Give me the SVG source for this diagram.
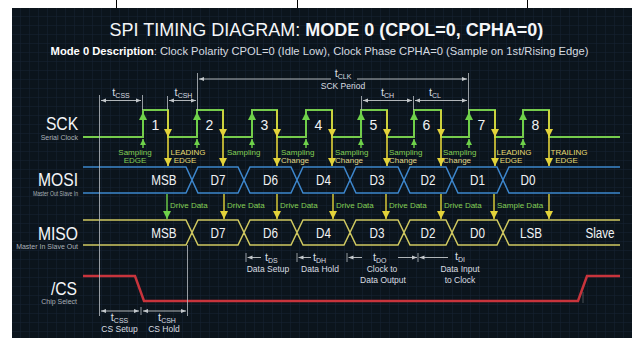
<svg xmlns="http://www.w3.org/2000/svg" width="632" height="338" viewBox="0 0 632 338">
<defs>
<style>
text{font-family:"Liberation Sans",Arial,sans-serif}
.title{font-size:18px;fill:#f4f6f8;text-anchor:middle}
.desc{font-size:11.2px;fill:#d6dbe0;text-anchor:middle}
.sig{font-size:18px;fill:#f4f6f8;text-anchor:end;transform-box:fill-box;transform-origin:right center;transform:scaleX(0.87)}
.sigsub{font-size:7px;fill:#aab1b8;text-anchor:end}
.bus{font-size:15px;fill:#f0f2f4;text-anchor:middle;transform-box:fill-box;transform-origin:center;transform:scaleX(0.78)}
.num{font-size:14px;fill:#f0f2f4;text-anchor:middle}
.sm{font-size:8px}
.grn{fill:#84cf55}
.yel{fill:#e6da72}
.chg{fill:#e2d98a}
.tl{font-size:11px;fill:#d9dde1}
.ts{font-size:7px}
.tx{font-size:8.5px;fill:#d9dde1;text-anchor:middle}
.mid{text-anchor:middle}
.st{text-anchor:start}
.sck{fill:none;stroke:#76cc4c;stroke-width:2}
.mosi{fill:none;stroke:#3d86cc;stroke-width:1.5}
.miso{fill:none;stroke:#cfc860;stroke-width:1.5}
.cs{fill:none;stroke:#c8343c;stroke-width:2.5}
.ya{fill:none;stroke:#e3d33a;stroke-width:1.6;marker-mid:url(#ay);marker-end:url(#ay)}
.ga{fill:none;stroke:#6fd24a;stroke-width:1.6;marker-end:url(#ag)}
.gs{fill:none;stroke:#6fd24a;stroke-width:1.4;marker-end:url(#ags)}
.dy{fill:none;stroke:#e3d33a;stroke-width:1.4;marker-end:url(#ay)}
.dg{fill:none;stroke:#6fd24a;stroke-width:1.4;marker-end:url(#ag)}
.ann{fill:none;stroke:#b9bec4;stroke-width:0.8}
.a2{fill:none;stroke:#c4c8cc;stroke-width:0.9;marker-start:url(#aw);marker-end:url(#aw)}
.a1{fill:none;stroke:#c4c8cc;stroke-width:0.9;marker-end:url(#aw)}
.a0{fill:none;stroke:#c4c8cc;stroke-width:0.9;marker-start:url(#aw)}
</style>
<pattern id="grid" x="12" y="8" width="9" height="9" patternUnits="userSpaceOnUse">
<path d="M8.5,0 V9 M0,8.5 H9" fill="none" stroke="#152230" stroke-width="0.6"/>
</pattern>
<marker id="ay" viewBox="0 0 10 10" refX="10" refY="5" markerWidth="8" markerHeight="8" markerUnits="userSpaceOnUse" orient="auto"><path d="M0,0 L10,5 L0,10 z" fill="#e3d33a"/></marker>
<marker id="ag" viewBox="0 0 10 10" refX="10" refY="5" markerWidth="8" markerHeight="8" markerUnits="userSpaceOnUse" orient="auto"><path d="M0,0 L10,5 L0,10 z" fill="#6fd24a"/></marker>
<marker id="ags" viewBox="0 0 10 10" refX="10" refY="5" markerWidth="6" markerHeight="6" markerUnits="userSpaceOnUse" orient="auto"><path d="M0,0 L10,5 L0,10 z" fill="#6fd24a"/></marker>
<marker id="aw" viewBox="0 0 10 10" refX="10" refY="5" markerWidth="5" markerHeight="5" markerUnits="userSpaceOnUse" orient="auto-start-reverse"><path d="M0,1 L10,5 L0,9 z" fill="#c4c8cc"/></marker>
</defs>

<rect width="632" height="338" fill="#ffffff"/>
<path d="M116.5,0 V8 M297.5,0 V8 M527.5,0 V8" stroke="#000" stroke-width="1"/>
<rect x="12" y="8" width="620" height="330" fill="#0b141c"/>
<rect x="12" y="8" width="620" height="330" fill="url(#grid)"/>

<g id="title">
<text class="title" x="326.5" y="36">SPI TIMING DIAGRAM: <tspan font-weight="bold">MODE 0 (CPOL=0, CPHA=0)</tspan></text>
<text class="desc" x="319.5" y="55"><tspan font-weight="bold" fill="#ffffff">Mode 0 Description</tspan>: Clock Polarity CPOL=0 (Idle Low), Clock Phase CPHA=0 (Sample on 1st/Rising Edge)</text>
</g>

<g id="sck">
<text class="sig" x="78" y="130">SCK</text>
<text class="sigsub" x="78" y="140">Serial Clock</text>
<path class="sck" d="M83,137 H143 V110 H168 V137 H197 V110 H223 V137 H252 V110 H277 V137 H306 V110 H332 V137 H361 V110 H387 V137 H414 V110 H441 V137 H469 V110 H495 V137 H523 V110 H549 V137 H620"/>
<text class="num" x="155.5" y="130">1</text>
<text class="num" x="209.5" y="130">2</text>
<text class="num" x="264.5" y="130">3</text>
<text class="num" x="318.5" y="130">4</text>
<text class="num" x="373.5" y="130">5</text>
<text class="num" x="426.5" y="130">6</text>
<text class="num" x="481.5" y="130">7</text>
<text class="num" x="535.5" y="130">8</text>
</g>

<g id="sck-notes">
<text class="sm grn mid" x="135" y="154.5">Sampling</text>
<text class="sm grn mid" x="135" y="162.5">EDGE</text>
<text class="sm yel mid" x="188" y="154.5">LEADING</text>
<text class="sm yel mid" x="185" y="162.5">EDGE</text>
<text class="sm grn" x="227" y="154.5">Sampling</text>
<text class="sm grn" x="281" y="154.5">Sampling</text>
<text class="sm chg" x="281" y="162.5">Change</text>
<text class="sm grn" x="335" y="154.5">Sampling</text>
<text class="sm chg" x="335" y="162.5">Change</text>
<text class="sm grn" x="389" y="154.5">Sampling</text>
<text class="sm chg" x="389" y="162.5">Change</text>
<text class="sm grn" x="443" y="154.5">Sampling</text>
<text class="sm chg" x="443" y="162.5">Change</text>
<text class="sm yel mid" x="514" y="154.5">LEADING</text>
<text class="sm yel mid" x="511" y="162.5">EDGE</text>
<text class="sm yel mid" x="569" y="154.5">TRAILING</text>
<text class="sm yel mid" x="566.5" y="162.5">EDGE</text>
</g>

<g id="mosi">
<text class="sig" x="78" y="186">MOSI</text>
<text class="sigsub" x="78" y="196" textLength="45" lengthAdjust="spacingAndGlyphs">Master Out Slave In</text>
<path class="mosi" d="M83,167 H186 L192,180 L186,193 H83 M192,180 L198,167 H238 L244,180 L238,193 H198 Z M244,180 L250,167 H291 L297,180 L291,193 H250 Z M297,180 L303,167 H344 L350,180 L344,193 H303 Z M350,180 L356,167 H398 L404,180 L398,193 H356 Z M404,180 L410,167 H446 L452,180 L446,193 H410 Z M452,180 L458,167 H497 L503,180 L497,193 H458 Z M620,167 H509 L503,180 L509,193 H620"/>
<text class="bus" x="164" y="185.5">MSB</text>
<text class="bus" x="218" y="185.5">D7</text>
<text class="bus" x="270.5" y="185.5">D6</text>
<text class="bus" x="323.5" y="185.5">D4</text>
<text class="bus" x="377" y="185.5">D3</text>
<text class="bus" x="428" y="185.5">D2</text>
<text class="bus" x="477.5" y="185.5">D1</text>
<text class="bus" x="528" y="185.5">D0</text>
</g>

<g id="miso">
<text class="sig" x="78" y="240">MISO</text>
<text class="sigsub" x="78" y="249">Master In Slave Out</text>
<path class="miso" d="M83,220 H186 L192,232.5 L186,245 H83 M192,232.5 L198,220 H238 L244,232.5 L238,245 H198 Z M244,232.5 L250,220 H291 L297,232.5 L291,245 H250 Z M297,232.5 L303,220 H344 L350,232.5 L344,245 H303 Z M350,232.5 L356,220 H398 L404,232.5 L398,245 H356 Z M404,232.5 L410,220 H446 L452,232.5 L446,245 H410 Z M452,232.5 L458,220 H497 L503,232.5 L497,245 H458 Z M620,220 H509 L503,232.5 L509,245 H620"/>
<text class="bus" x="164" y="238">MSB</text>
<text class="bus" x="218" y="238">D7</text>
<text class="bus" x="270.5" y="238">D6</text>
<text class="bus" x="323.5" y="238">D4</text>
<text class="bus" x="377" y="238">D3</text>
<text class="bus" x="428" y="238">D2</text>
<text class="bus" x="477.5" y="238">D0</text>
<text class="bus" x="531" y="238">LSB</text>
<text class="bus" x="600" y="238">Slave</text>
</g>

<g id="cs">
<text class="sig" x="77" y="295">/CS</text>
<text class="sigsub" x="77" y="304">Chip Select</text>
<path class="cs" d="M83,276 H135 L144,301 H578 L587,276 H620"/>
<path d="M583,292 V303" stroke="#8a9096" stroke-width="0.8" opacity="0.6"/>
</g>

<g id="connectors">
<path class="ya" d="M168,110 V137 V166"/>
<path class="ya" d="M223,110 V137 V166"/>
<path class="ya" d="M277,110 V137 V166"/>
<path class="ya" d="M332,110 V137 V166"/>
<path class="ya" d="M387,110 V137 V166"/>
<path class="ya" d="M441,110 V137 V166"/>
<path class="ya" d="M495,110 V137 V166"/>
<path class="ya" d="M549,110 V137 V166"/>
<path class="ga" d="M143,132 V112"/>
<path class="ga" d="M197,132 V112"/>
<path class="ga" d="M252,132 V112"/>
<path class="ga" d="M306,132 V112"/>
<path class="ga" d="M361,132 V112"/>
<path class="ga" d="M414,132 V112"/>
<path class="ga" d="M469,132 V112"/>
<path class="ga" d="M523,132 V112"/>
<path class="gs" d="M143,148 V139"/>
<path class="gs" d="M197,148 V139"/>
<path class="gs" d="M252,148 V139"/>
<path class="gs" d="M306,148 V139"/>
<path class="gs" d="M361,148 V139"/>
<path class="gs" d="M414,148 V139"/>
<path class="gs" d="M469,148 V139"/>
<path class="gs" d="M523,148 V139"/>
<path class="dg" d="M167,194 V219"/>
<path class="dy" d="M224,194 V219"/>
<path class="dy" d="M277,194 V219"/>
<path class="dy" d="M333,194 V219"/>
<path class="dy" d="M386,194 V219"/>
<path class="dy" d="M441,194 V219"/>
<path class="dy" d="M494,194 V219"/>
<path class="dy" d="M549,194 V219"/>
<text class="sm grn" x="170" y="208">Drive Data</text>
<text class="sm grn" x="227" y="208">Drive Data</text>
<text class="sm grn" x="280" y="208">Drive Data</text>
<text class="sm grn" x="336" y="208">Drive Data</text>
<text class="sm grn" x="389" y="208">Drive Data</text>
<text class="sm grn" x="444" y="208">Drive Data</text>
<text class="sm grn" x="497" y="208">Sample Data</text>
</g>

<g id="timing">
<path class="ann" d="M99.5,95 V316 M142.5,95 V110 M167.5,96 V110 M197.5,73 V110 M361.5,96 V110 M413.5,96 V110 M468.5,73 V110 M187.5,245 V316 M141,307 V315 M246,253 V262 M297,253 V262 M347,253 V262 M418,253 V262"/>
<path class="a2" d="M101,100.5 H141"/>
<path class="a2" d="M169,100.5 H196"/>
<path class="a2" d="M363,100.5 H412"/>
<path class="a2" d="M415,100.5 H467"/>
<path class="a0" d="M199,79 H331"/>
<path class="a1" d="M357,79 H467"/>
<path class="a2" d="M101,311 H139"/>
<path class="a2" d="M143,311 H186"/>
<path class="a1" d="M261,257.5 H247.5"/>
<path class="a1" d="M311,257.5 H298.5"/>
<path class="a1" d="M362,257.5 H348.5"/>
<path class="a1" d="M398,257.5 H417"/>
<path class="a1" d="M448,257.5 H419.5"/>
<text class="tl mid" x="121" y="95.5">t<tspan class="ts" dy="2">CSS</tspan></text>
<text class="tl mid" x="183.5" y="95.5">t<tspan class="ts" dy="2">CSH</tspan></text>
<text class="tl mid" x="343" y="77">t<tspan class="ts" dy="2">CLK</tspan></text>
<text class="tx" x="343" y="89" font-size="8">SCK Period</text>
<text class="tl mid" x="387.5" y="95.5">t<tspan class="ts" dy="2">CH</tspan></text>
<text class="tl mid" x="435" y="95.5">t<tspan class="ts" dy="2">CL</tspan></text>
<text class="tl st" x="265" y="261">t<tspan class="ts" dy="2">DS</tspan></text>
<text class="tx" x="268" y="272">Data Setup</text>
<text class="tl st" x="313" y="261">t<tspan class="ts" dy="2">DH</tspan></text>
<text class="tx" x="320" y="272">Data Hold</text>
<text class="tl st" x="373" y="261">t<tspan class="ts" dy="2">DO</tspan></text>
<text class="tx" x="382" y="272">Clock to</text>
<text class="tx" x="383" y="283">Data Output</text>
<text class="tl st" x="455" y="260">t<tspan class="ts" dy="2">DI</tspan></text>
<text class="tx" x="460" y="272">Data Input</text>
<text class="tx" x="460" y="283">to Clock</text>
<text class="tl mid" x="119.5" y="320.5">t<tspan class="ts" dy="2">CSS</tspan></text>
<text class="tx" x="119.5" y="332">CS Setup</text>
<text class="tl mid" x="167" y="320.5">t<tspan class="ts" dy="2">CSH</tspan></text>
<text class="tx" x="164" y="332">CS Hold</text>
</g>
</svg>
